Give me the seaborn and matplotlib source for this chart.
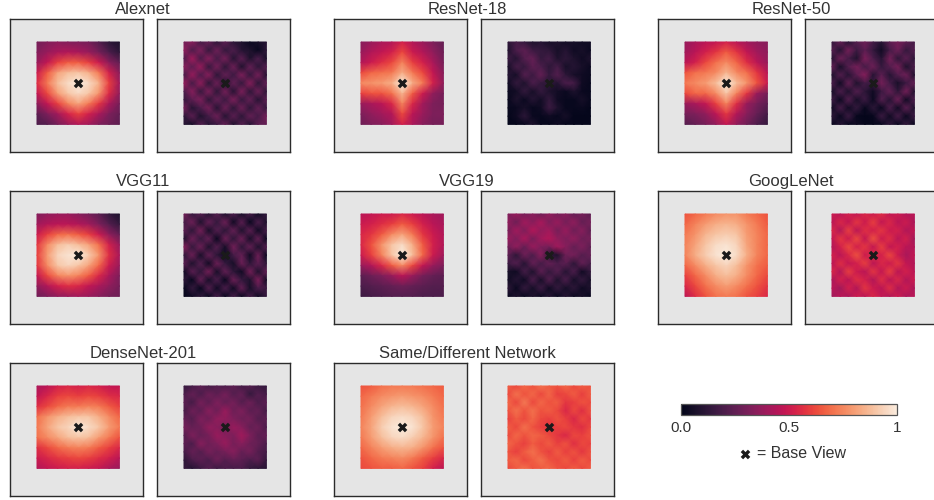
import numpy as np
import matplotlib
matplotlib.use("Agg")
import matplotlib.pyplot as plt
import seaborn as sns

# values in percent of the colour scale (top row first)
alexnet_same = [
    [30, 33, 35, 33, 32, 30, 22, 12, 8],
    [33, 38, 42, 44, 42, 38, 30, 20, 12],
    [38, 48, 60, 66, 66, 60, 50, 35, 25],
    [50, 66, 82, 88, 90, 85, 72, 52, 35],
    [56, 72, 88, 96, 100, 96, 85, 60, 40],
    [48, 62, 80, 90, 95, 90, 78, 55, 36],
    [35, 48, 60, 74, 82, 72, 58, 42, 30],
    [24, 32, 40, 52, 60, 52, 42, 32, 26],
    [20, 22, 30, 38, 44, 40, 32, 28, 24],
]
alexnet_diff = [
    [30, 34, 18, 26, 12, 24, 12, 8, 3, 6, 10],
    [36, 20, 32, 14, 28, 14, 20, 10, 8, 2, 12],
    [20, 40, 18, 34, 18, 30, 10, 24, 8, 20, 6],
    [34, 24, 38, 14, 30, 12, 28, 8, 26, 12, 22],
    [18, 38, 20, 34, 12, 26, 16, 32, 14, 30, 10],
    [38, 18, 36, 12, 28, 8, 26, 14, 34, 12, 26],
    [20, 34, 14, 32, 12, 30, 10, 32, 12, 28, 12],
    [14, 24, 32, 12, 26, 16, 32, 14, 26, 10, 24],
    [30, 10, 20, 30, 10, 28, 12, 28, 12, 26, 14],
    [12, 24, 8, 18, 28, 10, 24, 12, 26, 18, 30],
    [10, 6, 22, 10, 16, 26, 8, 22, 10, 24, 26],
]
resnet18_same = [
    [34, 38, 42, 44, 52, 44, 38, 32, 26],
    [38, 44, 48, 52, 62, 50, 44, 36, 28],
    [44, 50, 56, 62, 74, 60, 52, 42, 30],
    [62, 68, 70, 72, 84, 72, 62, 48, 34],
    [76, 78, 80, 84, 100, 84, 72, 52, 36],
    [60, 64, 64, 70, 86, 66, 50, 36, 30],
    [38, 42, 46, 54, 74, 54, 40, 32, 30],
    [32, 36, 40, 44, 62, 46, 38, 32, 32],
    [28, 32, 34, 40, 52, 42, 34, 30, 30],
]
resnet18_diff = [
    [12, 18, 14, 8, 10, 6, 8, 5, 6, 4, 4],
    [8, 20, 24, 16, 14, 12, 6, 10, 4, 6, 3],
    [16, 10, 22, 26, 14, 18, 8, 12, 8, 4, 8],
    [6, 18, 14, 24, 20, 12, 18, 6, 10, 6, 3],
    [10, 6, 22, 16, 26, 14, 22, 12, 6, 4, 3],
    [4, 14, 8, 20, 14, 12, 10, 20, 18, 4, 2],
    [3, 5, 14, 6, 14, 8, 5, 3, 8, 3, 2],
    [2, 8, 3, 10, 5, 14, 4, 2, 2, 6, 2],
    [2, 3, 6, 2, 4, 16, 8, 2, 2, 3, 1],
    [1, 4, 12, 3, 2, 4, 2, 6, 1, 1, 1],
    [1, 1, 2, 8, 1, 1, 4, 1, 1, 1, 1],
]
resnet50_same = [
    [38, 42, 46, 48, 52, 46, 40, 36, 34],
    [40, 46, 52, 58, 66, 58, 48, 40, 36],
    [46, 52, 62, 70, 76, 68, 56, 46, 38],
    [64, 70, 72, 76, 86, 76, 70, 58, 46],
    [72, 76, 80, 88, 100, 88, 78, 64, 50],
    [62, 68, 68, 76, 90, 74, 58, 38, 30],
    [38, 42, 48, 60, 74, 56, 38, 30, 24],
    [30, 32, 36, 46, 58, 44, 34, 26, 18],
    [22, 26, 30, 36, 48, 36, 28, 20, 14],
]
resnet50_diff = [
    [14, 26, 10, 22, 28, 18, 10, 24, 30, 24, 18],
    [22, 10, 30, 16, 24, 14, 4, 18, 28, 14, 22],
    [10, 28, 18, 8, 32, 20, 10, 30, 12, 24, 12],
    [26, 6, 22, 30, 18, 28, 14, 22, 30, 8, 20],
    [8, 22, 10, 24, 34, 10, 24, 10, 22, 28, 8],
    [20, 4, 26, 8, 18, 14, 30, 18, 6, 16, 26],
    [6, 20, 8, 22, 12, 4, 16, 26, 12, 30, 8],
    [16, 3, 22, 6, 16, 3, 22, 10, 28, 4, 20],
    [4, 18, 4, 14, 2, 12, 2, 20, 4, 24, 8],
    [12, 3, 16, 2, 1, 2, 16, 4, 18, 3, 16],
    [2, 10, 2, 4, 1, 1, 2, 12, 2, 14, 2],
]
vgg11_same = [
    [33, 36, 38, 38, 34, 30, 24, 14, 8],
    [40, 44, 46, 46, 44, 40, 32, 22, 14],
    [50, 60, 68, 70, 66, 60, 50, 36, 26],
    [58, 76, 88, 92, 88, 82, 70, 52, 38],
    [60, 80, 94, 98, 100, 92, 78, 56, 42],
    [58, 76, 90, 94, 90, 82, 68, 50, 38],
    [48, 62, 74, 78, 74, 66, 54, 42, 32],
    [36, 44, 52, 56, 54, 48, 42, 36, 30],
    [28, 32, 36, 38, 40, 38, 34, 30, 28],
]
vgg11_diff = [
    [30, 14, 22, 10, 22, 8, 20, 6, 18, 4, 14],
    [18, 28, 8, 26, 14, 28, 4, 24, 2, 20, 8],
    [24, 12, 30, 6, 22, 12, 26, 8, 24, 4, 18],
    [8, 28, 14, 26, 2, 28, 12, 28, 6, 26, 2],
    [34, 14, 28, 8, 22, 6, 30, 12, 26, 8, 22],
    [12, 28, 6, 26, 12, 4, 18, 26, 4, 28, 2],
    [24, 8, 22, 4, 28, 14, 6, 28, 12, 24, 12],
    [4, 24, 12, 30, 6, 26, 12, 4, 30, 8, 26],
    [12, 2, 26, 6, 20, 2, 28, 14, 8, 32, 4],
    [2, 14, 2, 22, 4, 20, 4, 26, 6, 20, 16],
    [1, 4, 12, 2, 18, 2, 18, 2, 18, 4, 14],
]
vgg19_same = [
    [46, 48, 50, 50, 54, 50, 46, 42, 40],
    [50, 52, 56, 60, 66, 60, 52, 46, 42],
    [54, 58, 66, 76, 82, 72, 58, 50, 44],
    [54, 64, 78, 90, 96, 84, 66, 52, 44],
    [50, 60, 74, 90, 100, 88, 68, 50, 40],
    [38, 44, 54, 66, 76, 62, 48, 38, 32],
    [24, 28, 32, 38, 46, 38, 30, 26, 24],
    [20, 22, 24, 26, 28, 26, 24, 22, 22],
    [16, 18, 20, 22, 22, 22, 20, 20, 20],
]
vgg19_diff = [
    [32, 38, 30, 34, 28, 36, 30, 34, 26, 30, 24],
    [36, 28, 40, 34, 42, 32, 38, 30, 36, 26, 30],
    [30, 40, 32, 44, 36, 40, 30, 38, 28, 34, 24],
    [38, 32, 42, 30, 40, 44, 36, 32, 36, 28, 30],
    [28, 36, 26, 38, 32, 30, 40, 34, 26, 32, 24],
    [24, 12, 28, 20, 34, 12, 8, 28, 30, 22, 26],
    [16, 22, 10, 26, 18, 26, 20, 24, 12, 26, 18],
    [6, 4, 18, 8, 24, 14, 22, 10, 20, 4, 14],
    [4, 10, 4, 20, 6, 22, 8, 20, 6, 14, 6],
    [12, 3, 14, 6, 16, 4, 14, 6, 12, 4, 8],
    [2, 8, 2, 8, 3, 10, 2, 10, 3, 6, 2],
]
googlenet_same = [
    [64, 68, 72, 76, 78, 78, 72, 68, 64],
    [68, 74, 80, 84, 86, 84, 78, 72, 66],
    [72, 78, 86, 90, 92, 90, 80, 74, 68],
    [74, 82, 90, 96, 98, 94, 82, 74, 68],
    [74, 84, 92, 98, 100, 96, 84, 74, 68],
    [68, 76, 84, 90, 94, 88, 78, 70, 66],
    [60, 68, 76, 84, 88, 84, 76, 68, 62],
    [54, 62, 70, 76, 80, 76, 70, 64, 58],
    [46, 56, 64, 70, 72, 70, 64, 60, 54],
]
googlenet_diff = [
    [50, 46, 52, 48, 54, 50, 56, 48, 50, 44, 46],
    [46, 54, 48, 58, 50, 60, 48, 54, 46, 50, 42],
    [54, 44, 60, 46, 56, 52, 58, 50, 52, 44, 48],
    [48, 58, 50, 62, 48, 64, 50, 56, 46, 52, 40],
    [44, 52, 62, 52, 58, 48, 60, 48, 52, 46, 44],
    [52, 46, 54, 64, 50, 56, 52, 62, 50, 42, 48],
    [46, 56, 48, 52, 60, 46, 54, 50, 58, 48, 44],
    [54, 44, 60, 50, 46, 58, 48, 60, 46, 52, 46],
    [42, 52, 46, 56, 52, 44, 56, 46, 54, 44, 50],
    [46, 40, 52, 44, 58, 50, 46, 56, 44, 50, 42],
    [40, 46, 42, 50, 46, 54, 48, 44, 50, 42, 46],
]
densenet_same = [
    [42, 46, 52, 54, 52, 54, 52, 48, 48],
    [48, 54, 60, 62, 60, 62, 60, 56, 54],
    [56, 62, 68, 72, 72, 74, 72, 66, 60],
    [70, 78, 84, 88, 90, 90, 84, 76, 68],
    [72, 82, 90, 94, 100, 96, 90, 80, 72],
    [70, 76, 82, 88, 90, 88, 80, 72, 64],
    [56, 62, 68, 72, 74, 72, 66, 60, 54],
    [50, 54, 58, 60, 62, 60, 56, 52, 46],
    [44, 48, 50, 52, 52, 50, 48, 42, 38],
]
densenet_diff = [
    [14, 18, 24, 18, 22, 20, 24, 18, 22, 16, 14],
    [20, 26, 20, 28, 24, 30, 22, 26, 14, 22, 18],
    [24, 18, 30, 24, 32, 26, 30, 22, 28, 20, 24],
    [18, 28, 24, 34, 28, 38, 28, 32, 24, 26, 18],
    [26, 22, 32, 28, 36, 36, 32, 28, 30, 22, 24],
    [30, 26, 28, 36, 34, 30, 38, 34, 26, 28, 20],
    [22, 32, 26, 30, 38, 34, 32, 40, 32, 24, 26],
    [24, 20, 34, 28, 32, 38, 30, 34, 28, 26, 20],
    [18, 26, 22, 30, 26, 30, 34, 26, 30, 22, 18],
    [12, 20, 24, 20, 28, 22, 26, 24, 20, 24, 14],
    [14, 10, 16, 22, 16, 20, 18, 20, 14, 12, 10],
]
samediff_same = [
    [64, 66, 70, 72, 72, 72, 70, 68, 66],
    [68, 72, 76, 78, 80, 78, 76, 72, 68],
    [70, 76, 82, 86, 88, 86, 82, 76, 70],
    [72, 80, 88, 94, 96, 94, 88, 78, 72],
    [74, 82, 92, 98, 100, 98, 90, 80, 74],
    [72, 80, 88, 94, 96, 92, 86, 78, 70],
    [68, 74, 80, 84, 86, 84, 78, 70, 64],
    [64, 68, 72, 74, 76, 72, 66, 60, 54],
    [62, 64, 66, 66, 68, 64, 60, 52, 46],
]
samediff_diff = [
    [66, 62, 68, 64, 70, 66, 64, 68, 62, 66, 64],
    [62, 70, 64, 68, 62, 68, 60, 62, 66, 60, 66],
    [68, 62, 72, 62, 68, 64, 66, 58, 60, 64, 62],
    [64, 70, 64, 70, 64, 66, 62, 54, 62, 56, 64],
    [60, 66, 62, 68, 62, 60, 64, 60, 54, 62, 58],
    [66, 62, 70, 64, 60, 58, 60, 62, 58, 56, 62],
    [62, 68, 64, 68, 66, 62, 58, 54, 62, 60, 64],
    [68, 64, 60, 66, 62, 66, 60, 64, 56, 62, 60],
    [64, 60, 66, 70, 64, 60, 66, 60, 64, 58, 64],
    [66, 68, 62, 66, 70, 64, 62, 66, 60, 66, 62],
    [62, 66, 70, 64, 66, 68, 64, 62, 66, 62, 66],
]

titles = ["Alexnet", "ResNet-18", "ResNet-50", "VGG11", "VGG19", "GoogLeNet",
          "DenseNet-201", "Same/Different Network"]
same_maps = [alexnet_same, resnet18_same, resnet50_same, vgg11_same, vgg19_same,
             googlenet_same, densenet_same, samediff_same]
diff_maps = [alexnet_diff, resnet18_diff, resnet50_diff, vgg11_diff, vgg19_diff,
             googlenet_diff, densenet_diff, samediff_diff]

W, H = 934, 500
TEXT = "#333333"
sns.set_theme(style="white")
plt.rcParams["font.family"] = ["Liberation Sans", "DejaVu Sans"]
cmap = sns.color_palette("rocket", as_cmap=True)

fig = plt.figure(figsize=(W / 100, H / 100), dpi=100)

col_x = [10, 334, 658]
row_y = [19, 191, 363]
PANEL = 133
GAP = 147


def px_axes(x, y, w, h):
    return fig.add_axes([x / W, 1 - (y + h) / H, w / W, h / H])


def draw_map(x, y, values):
    ax = px_axes(x, y, PANEL, PANEL)
    grid = np.array(values) / 100
    sns.heatmap(grid, ax=ax, cmap=cmap, vmin=0, vmax=1, cbar=False,
                xticklabels=False, yticklabels=False, shading="gouraud")
    # the map only fills the middle of the grey box
    n = grid.shape[0] - 1
    ppu = 82.4 / n
    ax.set_xlim(-27.0 / ppu, n + 23.6 / ppu)
    ax.set_ylim(n + 27.6 / ppu, -23.0 / ppu)
    ax.set_facecolor("#e5e5e5")
    for sp in ax.spines.values():
        sp.set_visible(True)
        sp.set_color("#2b2b2b")
        sp.set_linewidth(1.0)
    ax.scatter([n / 2], [n / 2], marker="X", s=48, color="#1a1a1a", linewidths=0, zorder=5)
    return ax


for i, name in enumerate(titles):
    x = col_x[i % 3]
    y = row_y[i // 3]
    left = draw_map(x, y, same_maps[i])
    draw_map(x + GAP, y, diff_maps[i])
    left.text(1.0, 1.015, name, transform=left.transAxes, ha="center", va="bottom",
              fontsize=12, color=TEXT)

# colour bar
cax = px_axes(681, 404, 216, 11)
dummy = px_axes(0, 0, 1, 1)
dummy.set_visible(False)
sns.heatmap(np.array(samediff_same) / 100, ax=dummy, cmap=cmap, vmin=0, vmax=1,
            cbar_ax=cax, cbar_kws={"orientation": "horizontal"})
cb = dummy.collections[0].colorbar
cb.set_ticks([0, 0.5, 1])
cb.set_ticklabels(["0.0", "0.5", "1"])
cax.tick_params(length=0, pad=4, labelsize=11, labelcolor=TEXT)
cb.outline.set_visible(True)
cb.outline.set_edgecolor("#555555")
cb.outline.set_linewidth(0.9)

# base view key
key = fig.add_axes([0, 0, 1, 1])
key.set_xlim(0, W)
key.set_ylim(H, 0)
key.axis("off")
key.scatter([745], [454], marker="X", s=48, color="#1a1a1a", linewidths=0)
key.text(757, 454, "= Base View", fontsize=11.5, color=TEXT, va="center", ha="left")

fig.savefig("out.png", dpi=100)
